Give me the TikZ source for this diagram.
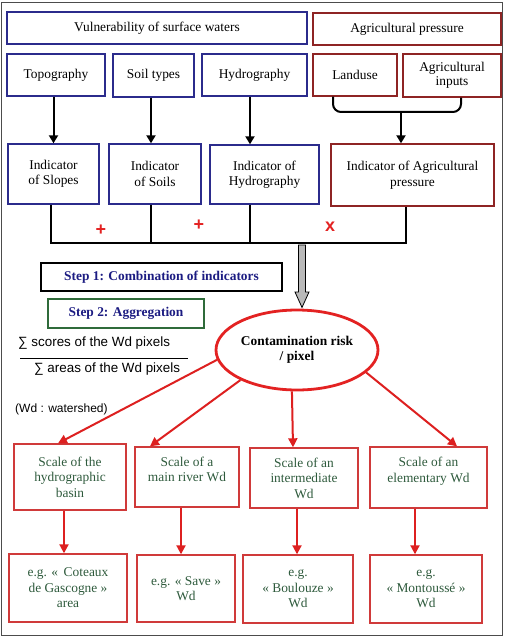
\documentclass[tikz,border=0pt]{standalone}
\usepackage{fontspec}
\setmainfont{Liberation Serif}
\setsansfont{Liberation Sans}
\usetikzlibrary{arrows.meta,shapes.geometric,calc}
\definecolor{navyb}{HTML}{2B2B8C}
\definecolor{dred}{HTML}{8E2424}
\definecolor{stepblue}{HTML}{1C1C82}
\definecolor{stepgreen}{HTML}{2F6B3A}
\definecolor{brightred}{HTML}{E32222}
\definecolor{boxred}{HTML}{D03A3A}
\definecolor{txtgreen}{HTML}{2E5A3C}
\definecolor{redline}{HTML}{DD2020}
\tikzset{
  base/.style={draw, rectangle, inner sep=0pt, align=center, line width=1.4pt,
    font=\fontsize{13.4}{15.5}\selectfont},
  bluebox/.style={base, draw=navyb},
  redbox/.style={base, draw=dred},
  scalebox/.style={base, draw=boxred, text=txtgreen},
  blk/.style={line width=2pt, black},
  blkarr/.style={blk, -{Triangle[width=9pt,length=8pt]}},
  redarr/.style={line width=2pt, redline, -{Triangle[width=9pt,length=9pt]}},
  opsign/.style={text=brightred, font=\sffamily\bfseries\fontsize{18}{18}\selectfont, inner sep=0pt},
  formula/.style={font=\sffamily\fontsize{13.4}{15}\selectfont, inner sep=0pt, anchor=west},
}
\begin{document}
\begin{tikzpicture}[x=1pt,y=-1pt]
\useasboundingbox (0,0) rectangle (504,636);
\draw[black!70, line width=1pt] (1.5,3) rectangle (502.5,635);

% top row
\node[bluebox, minimum width=300pt, minimum height=32pt] (vul) at (157,28) {Vulnerability of surface waters};
\node[redbox, minimum width=188pt, minimum height=32pt] (agp) at (407,29) {Agricultural pressure};
\node[bluebox, minimum width=98pt, minimum height=42pt] (topo) at (56,75) {Topography};
\node[bluebox, minimum width=81pt, minimum height=43pt] (soil) at (153.5,75.5) {Soil types};
\node[bluebox, minimum width=105pt, minimum height=42pt] (hydro) at (254.5,75) {Hydrography};
\node[redbox, minimum width=84pt, minimum height=42pt] (land) at (355,75) {Landuse};
\node[redbox, minimum width=98pt, minimum height=43pt, font=\fontsize{13.4}{14}\selectfont] (inputs) at (452,75.5) {Agricultural\\inputs};

% indicators
\node[bluebox, minimum width=91pt, minimum height=60pt] (islope) at (53.5,174) {Indicator\\of Slopes};
\node[bluebox, minimum width=92pt, minimum height=60pt] (isoil) at (155,174) {Indicator\\of Soils};
\node[bluebox, minimum width=109pt, minimum height=59pt] (ihydro) at (264.5,174.5) {Indicator of\\Hydrography};
\node[redbox, minimum width=163pt, minimum height=62pt] (iagr) at (412.5,175) {Indicator of Agricultural\\pressure};

% arrows to indicators
\draw[blkarr] (islope.north |- topo.south) -- (islope.north);
\draw[blkarr] ([xshift=-2.5pt]soil.south) -- ([xshift=-2.5pt]soil.south |- isoil.north);
\draw[blkarr] ([xshift=-4.5pt]hydro.south) -- ([xshift=-4.5pt]hydro.south |- ihydro.north);
\coordinate (joint) at (401,112);
\draw[blk, rounded corners=8pt] ([xshift=-22pt]land.south) |- (joint) -| ([xshift=9pt]inputs.south);
\draw[blkarr] (joint) -- (joint |- iagr.north);

% combination line
\coordinate (bl) at (51,243);
\coordinate (br) at (406,243);
\draw[blk] ([xshift=-2.5pt]islope.south) -- ([xshift=-2.5pt]islope.south |- bl) -- (br) -- (br |- iagr.south);
\draw[blk] ([xshift=-4pt]isoil.south) -- ([xshift=-4pt]isoil.south |- bl);
\draw[blk] ([xshift=-14.5pt]ihydro.south) -- ([xshift=-14.5pt]ihydro.south |- bl);
\node[opsign] (p1) at (101,230) {+};
\node[opsign] (p2) at (199,225) {+};
\node[opsign] (p3) at (330,227) {x};

% steps
\node[base, draw=black, minimum width=241pt, minimum height=28pt, text=stepblue, font=\bfseries\fontsize{13.4}{15}\selectfont] (step1) at (161.5,277) {Step 1: Combination of indicators};
\node[base, draw=stepgreen, minimum width=156pt, minimum height=29pt, text=stepblue, font=\bfseries\fontsize{13.4}{15}\selectfont] (step2) at (126,313.5) {Step 2: Aggregation};

% ellipse
\node[ellipse, draw=brightred, line width=2.8pt, minimum width=162pt, minimum height=80pt, inner sep=0pt, align=center, font=\bfseries\fontsize{13.4}{16}\selectfont] (ell) at (297,350) {Contamination risk\\[-0.5pt]/ pixel\hspace{18pt}};

% grey arrow
\coordinate (gtop) at (302,245);
\draw[fill=gray!55, line width=0.8pt] ([xshift=-3.5pt]gtop) -- (298.5,292) -- (295,292) -- (302,307.5) -- (309,292) -- (305.5,292) -- ([xshift=3.5pt]gtop) -- cycle;

% formula
\node[formula] (num) at (18,343) {∑ scores of the Wd pixels};
\coordinate (fl) at (20,358);
\coordinate (fr) at (188,358);
\draw[line width=1pt] (fl) -- (fr);
\node[formula] (den) at (34,369) {∑ areas of the Wd pixels};
\node[formula, font=\sffamily\fontsize{12}{14}\selectfont] (wd) at (15,409) {(Wd : watershed)};

% scale boxes
\node[scalebox, minimum width=112pt, minimum height=66pt] (s1) at (70,477) {Scale of the\\hydrographic\\basin};
\node[scalebox, minimum width=104pt, minimum height=60pt] (s2) at (187,477) {Scale of a\\main river Wd\\~};
\node[scalebox, minimum width=108pt, minimum height=60pt] (s3) at (304,478) {Scale of an\\intermediate\\Wd};
\node[scalebox, minimum width=117pt, minimum height=61pt] (s4) at (428.5,477.5) {Scale of an\\elementary Wd\\~};

\draw[redarr] (ell.187) -- ([xshift=-12pt]s1.north);
\draw[redarr] (ell.208) -- ([xshift=-37pt]s2.north);
\draw[redarr] (ell.263) -- ([xshift=-11pt]s3.north);
\draw[redarr] (ell.342) -- ([xshift=28.5pt]s4.north);

% example boxes
\node[scalebox, minimum width=118pt, minimum height=68pt] (e1) at (68,588) {e.g. «\, Coteaux\\de Gascogne »\\area};
\node[scalebox, minimum width=98pt, minimum height=67pt] (e2) at (186,588.5) {e.g. « Save »\\Wd};
\node[scalebox, minimum width=110pt, minimum height=68pt] (e3) at (298,589) {e.g.\\« Boulouze »\\Wd};
\node[scalebox, minimum width=112pt, minimum height=68pt] (e4) at (426,589) {e.g.\\« Montoussé »\\Wd};

\draw[redarr] ([xshift=-6pt]s1.south) -- ([xshift=-6pt]s1.south |- e1.north);
\draw[redarr] ([xshift=-6pt]s2.south) -- ([xshift=-6pt]s2.south |- e2.north);
\draw[redarr] ([xshift=-7pt]s3.south) -- ([xshift=-7pt]s3.south |- e3.north);
\draw[redarr] ([xshift=-13.5pt]s4.south) -- ([xshift=-13.5pt]s4.south |- e4.north);
\end{tikzpicture}
\end{document}
